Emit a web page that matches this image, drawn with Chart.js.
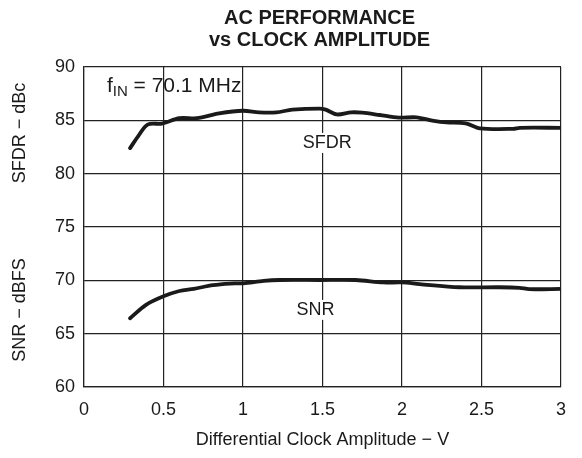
<!DOCTYPE html>
<html>
<head>
<meta charset="utf-8">
<script src="https://cdn.jsdelivr.net/npm/chart.js@4/dist/chart.umd.min.js"></script>
<style>
  html, body { margin: 0; padding: 0; background: #fff; }
  #wrap { width: 582px; height: 458px; }
</style>
</head>
<body>
<div id="wrap"><canvas id="chart" width="582" height="458"></canvas></div>
<script>
// values
const sfdrX = [0.29, 0.34, 0.40, 0.49, 0.60, 0.71, 0.85, 1.00, 1.10, 1.21, 1.31, 1.48, 1.52, 1.59, 1.68, 1.75, 1.86, 1.98, 2.09, 2.20, 2.28, 2.40, 2.49, 2.70, 2.74, 3.00];
const sfdrY = [82.4, 83.5, 84.6, 84.7, 85.2, 85.2, 85.65, 85.9, 85.75, 85.75, 86.0, 86.1, 86.0, 85.55, 85.75, 85.72, 85.5, 85.25, 85.28, 84.95, 84.8, 84.72, 84.25, 84.2, 84.3, 84.3];
const snrX = [0.29, 0.39, 0.50, 0.60, 0.69, 0.81, 0.92, 1.00, 1.13, 1.23, 1.48, 1.71, 1.88, 2.00, 2.11, 2.36, 2.61, 2.74, 2.80, 3.00];
const snrY = [66.45, 67.7, 68.5, 69.0, 69.2, 69.55, 69.7, 69.72, 69.95, 70.03, 70.03, 70.03, 69.8, 69.8, 69.65, 69.35, 69.35, 69.3, 69.17, 69.2];

const xTicks = [0, 0.5, 1, 1.5, 2, 2.5, 3];
const yTicks = [60, 65, 70, 75, 80, 85, 90];

const titleLines = ["AC PERFORMANCE", "vs CLOCK AMPLITUDE"];
const yTitles = ["SFDR \u2212 dBc", "SNR \u2212 dBFS"];
const xTitle = "Differential Clock Amplitude \u2212 V";

const FONT = "'Liberation Sans', Arial, sans-serif";
const INK = "#1a1a1a";

function toPoints(xs, ys) {
    return xs.map((x, i) => ({ x: x, y: ys[i] }));
}

// text with a white patch behind, so grid lines break around it
function boxedText(ctx, text, x, y) {
    const w = ctx.measureText(text).width;
    ctx.save();
    ctx.fillStyle = "#fff";
    ctx.fillRect(x - w / 2 - 3, y - 10, w + 6, 20);
    ctx.restore();
    ctx.fillText(text, x, y);
}

// titles and curve labels
const textPlugin = {
    id: "texts",
    afterDraw(chart) {
        const ctx = chart.ctx;
        const area = chart.chartArea;
        const xs = chart.scales.x;
        const ys = chart.scales.y;
        ctx.save();
        ctx.fillStyle = INK;

        // main title
        ctx.font = "bold 20px " + FONT;
        ctx.textAlign = "center";
        ctx.textBaseline = "middle";
        const cx = (area.left + area.right) / 2 - 3;
        ctx.fillText(titleLines[0], cx, 18);
        ctx.fillText(titleLines[1], cx, 40);

        // two y axis titles
        ctx.font = "18px " + FONT;
        ctx.save();
        ctx.translate(20, 133);
        ctx.rotate(-Math.PI / 2);
        ctx.fillText(yTitles[0], 0, 0);
        ctx.restore();
        ctx.save();
        ctx.translate(20, 310);
        ctx.rotate(-Math.PI / 2);
        ctx.fillText(yTitles[1], 0, 0);
        ctx.restore();

        // curve labels
        ctx.font = "18px " + FONT;
        boxedText(ctx, "SFDR", xs.getPixelForValue(1.53), ys.getPixelForValue(82.88));
        boxedText(ctx, "SNR", xs.getPixelForValue(1.456), ys.getPixelForValue(67.23));

        // f_IN annotation
        ctx.textAlign = "left";
        let px = xs.getPixelForValue(0.144);
        const py = ys.getPixelForValue(88.2);
        ctx.font = "21px " + FONT;
        ctx.fillText("f", px, py);
        px += ctx.measureText("f").width;
        ctx.font = "15px " + FONT;
        ctx.fillText("IN", px, py + 6);
        px += ctx.measureText("IN").width;
        ctx.font = "21px " + FONT;
        ctx.fillText(" = 70.1 MHz", px, py);
        ctx.restore();
    }
};

const lineStyle = {
    borderColor: INK,
    borderWidth: 3.8,
    pointRadius: 0,
    tension: 0.3,
    fill: false,
    borderCapStyle: "round",
    borderJoinStyle: "round"
};

new Chart(document.getElementById("chart").getContext("2d"), {
    type: "line",
    data: {
        datasets: [
            Object.assign({ label: "SFDR", data: toPoints(sfdrX, sfdrY) }, lineStyle),
            Object.assign({ label: "SNR", data: toPoints(snrX, snrY) }, lineStyle)
        ]
    },
    options: {
        responsive: false,
        animation: false,
        layout: { padding: { top: 67, right: 21, left: 0, bottom: 0 } },
        plugins: {
            legend: { display: false },
            tooltip: { enabled: false }
        },
        scales: {
            x: {
                type: "linear",
                min: 0,
                max: 3,
                afterBuildTicks: s => { s.ticks = xTicks.map(v => ({ value: v })); },
                afterFit: s => { s.height = 71; },
                grid: { color: "#222", lineWidth: 1.2, drawTicks: false },
                border: { color: "#222", width: 1.2 },
                ticks: {
                    color: INK,
                    padding: 12,
                    font: { family: FONT, size: 18 },
                    maxRotation: 0,
                    callback: v => String(v)
                },
                title: {
                    display: true,
                    text: xTitle,
                    color: INK,
                    font: { family: FONT, size: 18 },
                    padding: { top: 0, bottom: 7 }
                }
            },
            y: {
                min: 60,
                max: 90,
                afterBuildTicks: s => { s.ticks = yTicks.map(v => ({ value: v })); },
                afterFit: s => { s.width = 84; },
                grid: { color: "#222", lineWidth: 1.2, drawTicks: false },
                border: { color: "#222", width: 1.2 },
                ticks: {
                    color: INK,
                    padding: 9,
                    font: { family: FONT, size: 18 }
                }
            }
        }
    },
    plugins: [textPlugin]
});
</script>
</body>
</html>
